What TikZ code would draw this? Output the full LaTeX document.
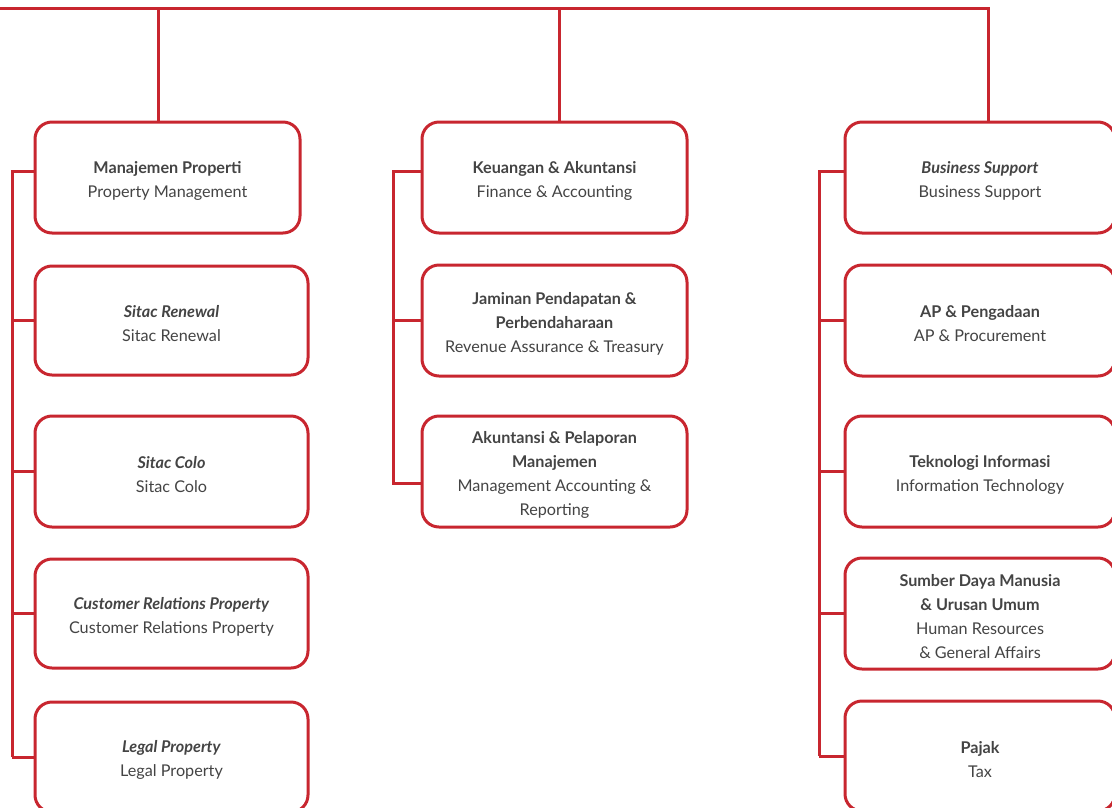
\documentclass[tikz,border=0pt]{standalone}
\usepackage{fontspec}
\setmainfont{Lato}
\definecolor{tred}{HTML}{C8262F}
\definecolor{ttext}{HTML}{444444}
\newcommand\tstr{\rule{0pt}{18.5pt}}
\begin{document}
\begin{tikzpicture}[x=1pt,y=-1pt,
  unit/.style={draw=tred, line width=3pt, rounded corners=17pt, fill=white,
    minimum height=111pt, align=center, text=ttext,
    font=\fontsize{16.2}{24}\selectfont, inner sep=0pt},
  lcol/.style={unit, minimum width=273pt},
  mcol/.style={unit, minimum width=265pt},
  rcol/.style={unit, minimum width=270pt},
  link/.style={draw=tred, line width=3pt}]
\useasboundingbox (0,0) rectangle (1112,807);
\clip (0,0) rectangle (1112,807);

% left column
\node[mcol] (m1) at (167.5,177.5) {\tstr\textbf{Manajemen Properti}\\Property Management};
\node[lcol, minimum height=109pt] (l2) at (171.5,320.5) {\tstr\textbf{\textit{Sitac Renewal}}\\Sitac Renewal};
\node[lcol] (l3) at (171.5,471.5) {\tstr\textbf{\textit{Sitac Colo}}\\Sitac Colo};
\node[lcol, minimum height=109pt] (l4) at (171.5,613.5) {\tstr\textbf{\textit{Customer Relations Property}}\\Customer Relations Property};
\node[lcol, minimum height=110pt] (l5) at (171.5,757) {\tstr\textbf{\textit{Legal Property}}\\Legal Property};

% middle column
\node[mcol] (k1) at (554.5,177.5) {\tstr\textbf{Keuangan \& Akuntansi}\\Finance \& Accounting};
\node[mcol] (k2) at (554.5,320.5) {\tstr\textbf{Jaminan Pendapatan \&}\\\textbf{Perbendaharaan}\\Revenue Assurance \& Treasury};
\node[mcol] (k3) at (554.5,471.5) {\tstr\textbf{Akuntansi \& Pelaporan}\\\textbf{Manajemen}\\Management Accounting \&\\Reporting};

% right column
\node[rcol] (r1) at (980,177.5) {\tstr\textbf{\textit{Business Support}}\\Business Support};
\node[rcol] (r2) at (980,320.5) {\tstr\textbf{AP \& Pengadaan}\\AP \& Procurement};
\node[rcol] (r3) at (980,471.5) {\tstr\textbf{Teknologi Informasi}\\Information Technology};
\node[rcol] (r4) at (980,613.5) {\tstr\textbf{Sumber Daya Manusia}\\\textbf{\& Urusan Umum}\\Human Resources\\\& General Affairs};
\node[rcol, minimum height=110pt] (r5) at (980,756) {\tstr\textbf{Pajak}\\Tax};

% top bus
\coordinate (busL) at (0,8);
\coordinate (busR) at (988,8);
\coordinate (d1) at (158,8);
\coordinate (d2) at (559,8);
\draw[link] (busL) -- (busR) -- (busR |- r1.north);
\draw[link] (d1) -- (d1 |- m1.north);
\draw[link] (d2) -- (d2 |- k1.north);

% stub points
\coordinate (m1s) at ([yshift=6.5pt]m1.west);
\coordinate (k1s) at ([yshift=6.5pt]k1.west);
\coordinate (k3s) at ([yshift=-11.5pt]k3.west);
\coordinate (r1s) at ([yshift=6.5pt]r1.west);

% brackets
\coordinate (bl) at (12,0);
\coordinate (bm) at (393,0);
\coordinate (br) at (819,0);

\draw[link] (bl |- l5.west) -- (bl |- m1s) -- (m1s);
\foreach \n in {l2,l3,l4,l5} \draw[link] (bl |- \n.west) -- (\n.west);

\draw[link] (k3s) -- (bm |- k3s) -- (bm |- k1s) -- (k1s);
\draw[link] (bm |- k2.west) -- (k2.west);

\draw[link] (br |- r5.west) -- (br |- r1s) -- (r1s);
\foreach \n in {r2,r3,r4,r5} \draw[link] (br |- \n.west) -- (\n.west);
\end{tikzpicture}
\end{document}
